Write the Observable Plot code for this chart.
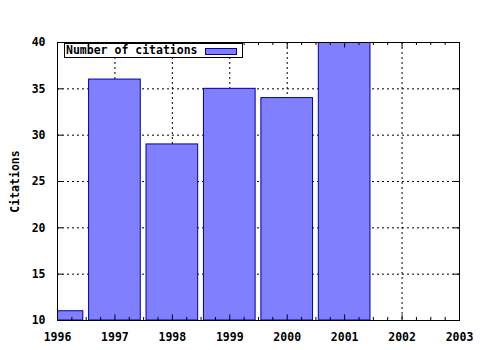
<!DOCTYPE html>
<html><head><meta charset="utf-8">
<script src="https://cdn.jsdelivr.net/npm/d3@7"></script>
<script src="https://cdn.jsdelivr.net/npm/@observablehq/plot@0.6"></script>
<style>
body{margin:0;background:#fff;}
#wrap{position:relative;width:480px;height:350px;background:#fff;}
#wrap svg{display:block;}
.legend{position:absolute;left:64px;top:43px;width:177px;height:13px;border:1px solid #000;background:#fff;
  font:bold 11.5px "DejaVu Sans Mono",monospace;color:#000;line-height:13px;}
.legend span.t{position:absolute;left:1px;top:0;white-space:nowrap;}
.legend span.s{position:absolute;left:140px;top:4px;width:30px;height:5px;background:#8080ff;border:1px solid #0000a0;}
</style></head><body><div id="wrap"></div>
<script>
const years = [1996, 1997, 1998, 1999, 2000, 2001];
const citations = [11, 36, 29, 35, 34, 40];
const xTicks = [1996, 1997, 1998, 1999, 2000, 2001, 2002, 2003];
const yTicks = [10, 15, 20, 25, 30, 35, 40];
const seriesName = "Number of citations";
const yLabelText = "Citations";

const data = years.map((y, i) => ({year: y, value: citations[i]}));
const minorX = [];
for (let i = 0; i < xTicks.length - 1; i++) for (let q = 1; q < 4; q++) minorX.push(xTicks[i] + q * 0.25);
const gridX = xTicks.slice(1, -1);
const gridY = yTicks.slice(1, -1);
const x0 = xTicks[0], x1 = xTicks[xTicks.length - 1];
const y0 = yTicks[0], y1 = yTicks[yTicks.length - 1];
const font = '"DejaVu Sans Mono", monospace';

const chart = Plot.plot({
  width: 480, height: 350,
  marginLeft: 57, marginRight: 21, marginTop: 42, marginBottom: 30,
  style: {background: "#fff", fontFamily: font, fontSize: "11.5px", fontWeight: "bold", color: "#000"},
  x: {type: "linear", domain: [x0, x1]},
  y: {type: "linear", domain: [y0, y1]},
  marks: [
    Plot.ruleX(gridX, {stroke: "#000", strokeDasharray: "2,3", strokeWidth: 1}),
    Plot.ruleY(gridY, {stroke: "#000", strokeDasharray: "2,3", strokeWidth: 1}),
    Plot.rectY(data, {x1: d => d.year - 0.45, x2: d => d.year + 0.45, y1: y0, y2: "value",
      fill: "#8080ff", stroke: "#0000a0", strokeWidth: 1, clip: true}),
    Plot.ruleX(xTicks, {y1: y0, y2: y0 + 0.6, stroke: "#000"}),
    Plot.ruleX(xTicks, {y1: y1, y2: y1 - 0.6, stroke: "#000"}),
    Plot.ruleX(minorX, {y1: y0, y2: y0 + 0.33, stroke: "#000"}),
    Plot.ruleX(minorX, {y1: y1, y2: y1 - 0.33, stroke: "#000"}),
    Plot.ruleY(yTicks, {x1: x0, x2: x0 + 0.1, stroke: "#000"}),
    Plot.ruleY(yTicks, {x1: x1, x2: x1 - 0.1, stroke: "#000"}),
    Plot.frame({stroke: "#000", strokeWidth: 1}),
    Plot.axisX({ticks: xTicks, tickFormat: d => String(d), tickSize: 0, tickPadding: 12, label: null}),
    Plot.axisY({ticks: yTicks, tickFormat: d => String(d), tickSize: 0, tickPadding: 12,
      label: yLabelText, labelAnchor: "center", labelOffset: 47, labelArrow: false})
  ]
});
const wrap = document.getElementById("wrap");
wrap.appendChild(chart);
const lg = document.createElement("div");
lg.className = "legend";
const t = document.createElement("span"); t.className = "t"; t.textContent = seriesName;
const s = document.createElement("span"); s.className = "s";
lg.appendChild(t); lg.appendChild(s);
wrap.appendChild(lg);
</script></body></html>
